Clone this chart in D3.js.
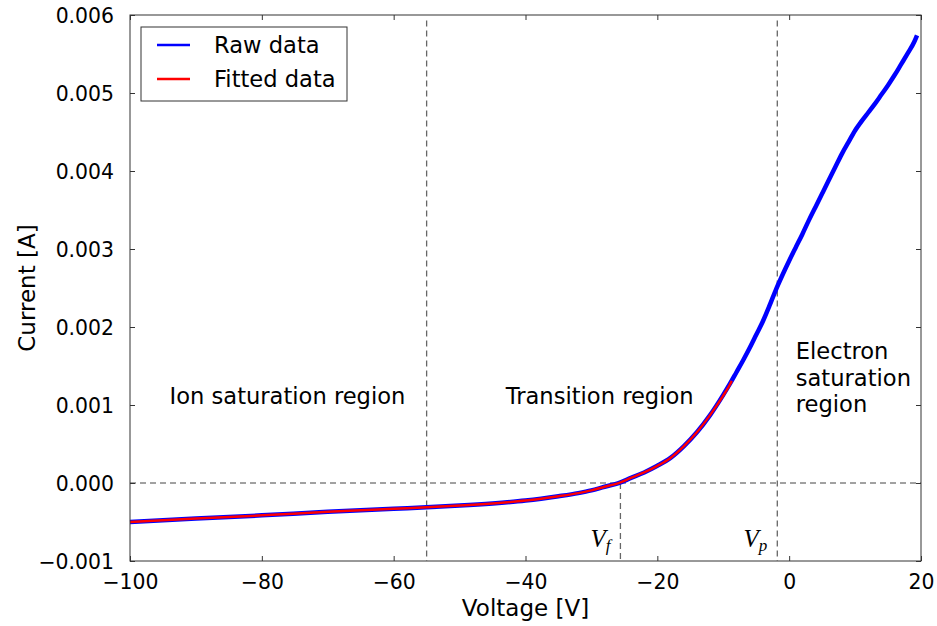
<!DOCTYPE html>
<html>
<head>
<meta charset="utf-8">
<script src="https://cdn.jsdelivr.net/npm/d3@7"></script>
<style>
  body { margin: 0; background: #fff; }
</style>
</head>
<body>
<div id="vis"></div>
<script>
// data
const RAW_V = [-100, -90, -80, -70, -60, -55, -50, -45, -40, -35, -32, -30, -28, -26, -24, -22,
               -20, -18, -16, -14, -12, -10, -9, -8, -7, -6, -5, -4, -3, -2, -1, 0,
               1, 2, 3, 4, 5, 6, 7, 8, 9, 10, 11, 12, 13, 14, 15, 16, 17, 18, 19, 19.4];
const RAW_I = [-0.000500, -0.000455, -0.000415, -0.000370, -0.000330, -0.000312, -0.000290, -0.000262,
               -0.000225, -0.000170, -0.000130, -0.000095, -0.000048, -0.000005, 0.000065, 0.000135,
               0.000220, 0.000322, 0.000470, 0.000650, 0.000870, 0.00113, 0.00127, 0.00142,
               0.00157, 0.00173, 0.00190, 0.00207, 0.00227, 0.00248, 0.00267, 0.00285,
               0.00302, 0.00319, 0.00337, 0.00354, 0.00371, 0.00388, 0.00405, 0.00422,
               0.00437, 0.00452, 0.00464, 0.00475, 0.00486, 0.00498, 0.00510, 0.00523,
               0.00537, 0.00551, 0.00566, 0.00574];
const FIT_V = [-100, -90, -80, -70, -60, -55, -50, -45, -40, -35, -32, -30, -28, -26, -24, -22,
               -20, -18, -16, -14, -12, -10, -9, -8.7];
const FIT_I = [-0.000500, -0.000455, -0.000415, -0.000370, -0.000330, -0.000312, -0.000290, -0.000262,
               -0.000225, -0.000170, -0.000130, -0.000095, -0.000048, -0.000005, 0.000065, 0.000135,
               0.000220, 0.000322, 0.000470, 0.000650, 0.000870, 0.00112, 0.00126, 0.00131];

const X_TICKS = [-100, -80, -60, -40, -20, 0, 20];
const Y_TICKS = [-0.001, 0, 0.001, 0.002, 0.003, 0.004, 0.005, 0.006];
const V_FLOAT = -25.6;
const V_PLASMA = -1.8;
const V_ION = -55;
const REGIONS = [
  {lines: ["Ion saturation region"], v: -94},
  {lines: ["Transition region"], v: -43},
  {lines: ["Electron", "saturation", "region"], v: 1}
];
const LEGEND = [{name: "Raw data", color: "blue"}, {name: "Fitted data", color: "red"}];

const FRAME_WIDTH = 937;
const FRAME_HEIGHT = 626;
const MARGINS = {left: 130, right: 16, top: 15, bottom: 65};
const VIS_WIDTH = FRAME_WIDTH - MARGINS.left - MARGINS.right;
const VIS_HEIGHT = FRAME_HEIGHT - MARGINS.top - MARGINS.bottom;
const SANS = "DejaVu Sans, sans-serif";

const FRAME = d3.select("#vis")
                .append("svg")
                  .attr("width", FRAME_WIDTH)
                  .attr("height", FRAME_HEIGHT)
                  .style("font-family", SANS);

const X_SCALE = d3.scaleLinear().domain([-100, 20]).range([MARGINS.left, MARGINS.left + VIS_WIDTH]);
const Y_SCALE = d3.scaleLinear().domain([-0.001, 0.006]).range([MARGINS.top + VIS_HEIGHT, MARGINS.top]);

const minus = (s) => s.replace("-", "\u2212");

// reference dashed lines
const DASH = "6,4";
FRAME.append("line")
  .attr("x1", X_SCALE(-100)).attr("x2", X_SCALE(20))
  .attr("y1", Y_SCALE(0)).attr("y2", Y_SCALE(0))
  .attr("stroke", "#444").attr("stroke-width", 1).attr("stroke-dasharray", DASH);

[[V_ION, 0.00593], [V_PLASMA, 0.00593], [V_FLOAT, 0]].forEach(([v, top]) => {
  FRAME.append("line")
    .attr("x1", X_SCALE(v)).attr("x2", X_SCALE(v))
    .attr("y1", Y_SCALE(top)).attr("y2", Y_SCALE(-0.001))
    .attr("stroke", "#666").attr("stroke-width", 1.3).attr("stroke-dasharray", DASH);
});

// curves
const line = d3.line()
  .x((d) => X_SCALE(d[0]))
  .y((d) => Y_SCALE(d[1]))
  .curve(d3.curveMonotoneX);

FRAME.append("path")
  .datum(RAW_V.map((v, i) => [v, RAW_I[i]]))
  .attr("d", line)
  .attr("fill", "none").attr("stroke", "blue").attr("stroke-width", 4.5)
  .attr("stroke-linejoin", "round");

FRAME.append("path")
  .datum(FIT_V.map((v, i) => [v, FIT_I[i]]))
  .attr("d", line)
  .attr("fill", "none").attr("stroke", "red").attr("stroke-width", 2.5);

// frame with inward ticks on all four sides
FRAME.append("rect")
  .attr("x", MARGINS.left).attr("y", MARGINS.top)
  .attr("width", VIS_WIDTH).attr("height", VIS_HEIGHT)
  .attr("fill", "none").attr("stroke", "#333").attr("stroke-width", 1);

const bottomAxis = FRAME.append("g")
  .attr("transform", "translate(0," + (MARGINS.top + VIS_HEIGHT) + ")")
  .call(d3.axisBottom(X_SCALE).tickValues(X_TICKS).tickSizeInner(-5).tickSizeOuter(0)
          .tickPadding(14).tickFormat((d) => minus(String(d))));
FRAME.append("g")
  .attr("transform", "translate(0," + MARGINS.top + ")")
  .call(d3.axisTop(X_SCALE).tickValues(X_TICKS).tickSizeInner(-5).tickSizeOuter(0).tickFormat(""));
const leftAxis = FRAME.append("g")
  .attr("transform", "translate(" + MARGINS.left + ",0)")
  .call(d3.axisLeft(Y_SCALE).tickValues(Y_TICKS).tickSizeInner(-5).tickSizeOuter(0)
          .tickPadding(16).tickFormat((d) => minus(d3.format(".3f")(d))));
FRAME.append("g")
  .attr("transform", "translate(" + (MARGINS.left + VIS_WIDTH) + ",0)")
  .call(d3.axisRight(Y_SCALE).tickValues(Y_TICKS).tickSizeInner(-5).tickSizeOuter(0).tickFormat(""));

FRAME.selectAll(".domain").remove();
FRAME.selectAll(".tick line").attr("stroke", "#333");
FRAME.selectAll(".tick text")
  .style("font-family", SANS).style("font-size", "20.4px").attr("fill", "#000");
leftAxis.selectAll(".tick text").attr("dy", "0.35em");
bottomAxis.selectAll(".tick text").attr("dy", "0.71em");

// axis labels
FRAME.append("text")
  .attr("x", MARGINS.left + VIS_WIDTH / 2).attr("y", 616)
  .attr("text-anchor", "middle").style("font-size", "23px")
  .text("Voltage [V]");
FRAME.append("text")
  .attr("transform", "translate(35," + (MARGINS.top + VIS_HEIGHT / 2) + ") rotate(-90)")
  .attr("text-anchor", "middle").style("font-size", "23px")
  .text("Current [A]");

// region annotations
REGIONS.forEach((r) => {
  const t = FRAME.append("text")
    .attr("x", X_SCALE(r.v))
    .attr("y", r.lines.length > 1 ? 359 : Y_SCALE(0.001) - 1)
    .style("font-size", "22.6px");
  r.lines.forEach((s, i) => {
    t.append("tspan").attr("x", X_SCALE(r.v)).attr("dy", i === 0 ? 0 : 26.5).text(s);
  });
});

// V_f and V_p labels
[["f", V_FLOAT], ["p", V_PLASMA]].forEach(([sub, v]) => {
  const t = FRAME.append("text")
    .attr("x", X_SCALE(v) - 10).attr("y", 547)
    .attr("text-anchor", "end")
    .style("font-family", "Liberation Serif, serif").style("font-style", "italic")
    .style("font-size", "25px");
  t.append("tspan").text("V");
  t.append("tspan").style("font-size", "17px").attr("dy", 4).text(sub);
});

// legend
const LEG_X = 141, LEG_Y = 27;
FRAME.append("rect")
  .attr("x", LEG_X).attr("y", LEG_Y).attr("width", 206).attr("height", 74)
  .attr("fill", "#fff").attr("stroke", "#333").attr("stroke-width", 1);
LEGEND.forEach((d, i) => {
  const y = LEG_Y + 18 + i * 34;
  FRAME.append("line")
    .attr("x1", LEG_X + 16).attr("x2", LEG_X + 49)
    .attr("y1", y).attr("y2", y)
    .attr("stroke", d.color).attr("stroke-width", 2.5);
  FRAME.append("text")
    .attr("x", LEG_X + 73).attr("y", y + 8)
    .style("font-size", "22.6px")
    .text(d.name);
});
</script>
</body>
</html>
